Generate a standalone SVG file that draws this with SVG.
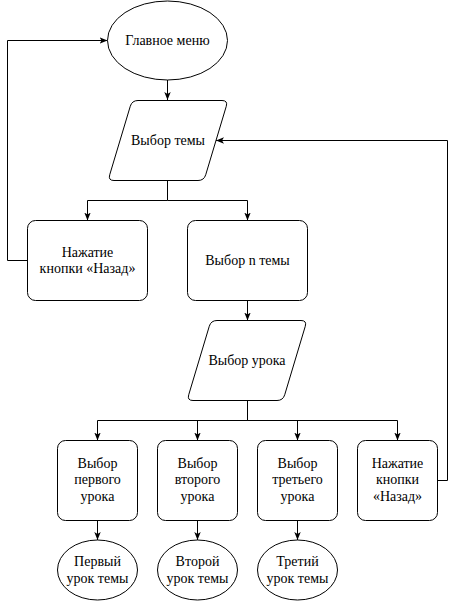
<svg xmlns="http://www.w3.org/2000/svg" width="456" height="601" viewBox="0 0 456 601">
<style>
.s{fill:#fff;stroke:#000;stroke-width:1}
.c{fill:none;stroke:#000;stroke-width:1}
text{font-family:"Liberation Serif","Times New Roman",serif;font-size:14px;fill:#000;text-anchor:middle}
</style>
<defs>
<marker id="a" markerUnits="userSpaceOnUse" viewBox="0 0 10 10" refX="10" refY="5" markerWidth="8" markerHeight="8" orient="auto">
<path d="M0,1 L10,5 L0,9 L2.5,5 z" fill="#000"/>
</marker>
</defs>
<g id="connectors">
<path class="c" d="M167.5,80 V100" marker-end="url(#a)"/>
<path class="c" d="M167.5,180.5 V200.5 H87.5 V220.5" marker-end="url(#a)"/>
<path class="c" d="M167.5,200.5 H247.5 V220.5" marker-end="url(#a)"/>
<path class="c" d="M27.5,260.5 H7.5 V40.5 H107.5" marker-end="url(#a)"/>
<path class="c" d="M247.5,300.5 V320.5" marker-end="url(#a)"/>
<path class="c" d="M247.5,400.5 V420.5 H97.5 V440.5" marker-end="url(#a)"/>
<path class="c" d="M247.5,420.5 H197.5 V440.5" marker-end="url(#a)"/>
<path class="c" d="M247.5,420.5 H297.5 V440.5" marker-end="url(#a)"/>
<path class="c" d="M247.5,420.5 H397.5 V440.5" marker-end="url(#a)"/>
<path class="c" d="M97.5,520.5 V540" marker-end="url(#a)"/>
<path class="c" d="M197.5,520.5 V540" marker-end="url(#a)"/>
<path class="c" d="M297.5,520.5 V540" marker-end="url(#a)"/>
<path class="c" d="M437.5,480.5 H447.5 V140.5 H216" marker-end="url(#a)"/>
</g>
<g id="main-menu">
<ellipse class="s" cx="167.5" cy="40.5" rx="60" ry="39.5"/>
<text x="167.5" y="45">Главное меню</text>
</g>
<g id="choose-topic">
<path class="s" d="M138,100.5 H222 Q228,100.5 226.28,106.25 L205.72,174.75 Q204,180.5 198,180.5 H114 Q108,180.5 109.72,174.75 L130.28,106.25 Q132,100.5 138,100.5 Z"/>
<text x="168" y="145">Выбор темы</text>
</g>
<g id="back-1">
<rect class="s" x="27.5" y="220.5" width="120" height="80" rx="8"/>
<text x="87.5" y="256.5">Нажатие</text>
<text x="87.5" y="273.3">кнопки «Назад»</text>
</g>
<g id="topic-n">
<rect class="s" x="187.5" y="220.5" width="120" height="80" rx="8"/>
<text x="247.5" y="265">Выбор n темы</text>
</g>
<g id="choose-lesson">
<path class="s" d="M217,320.5 H301 Q307,320.5 305.28,326.25 L284.72,394.75 Q283,400.5 277,400.5 H193 Q187,400.5 188.72,394.75 L209.28,326.25 Q211,320.5 217,320.5 Z"/>
<text x="247" y="365">Выбор урока</text>
</g>
<g id="lesson-1">
<rect class="s" x="57.5" y="440.5" width="80" height="80" rx="8"/>
<text x="97.5" y="467.5">Выбор</text>
<text x="97.5" y="484.3">первого</text>
<text x="97.5" y="501.1">урока</text>
</g>
<g id="lesson-2">
<rect class="s" x="157.5" y="440.5" width="80" height="80" rx="8"/>
<text x="197.5" y="467.5">Выбор</text>
<text x="197.5" y="484.3">второго</text>
<text x="197.5" y="501.1">урока</text>
</g>
<g id="lesson-3">
<rect class="s" x="257.5" y="440.5" width="80" height="80" rx="8"/>
<text x="297.5" y="467.5">Выбор</text>
<text x="297.5" y="484.3">третьего</text>
<text x="297.5" y="501.1">урока</text>
</g>
<g id="back-2">
<rect class="s" x="357.5" y="440.5" width="80" height="80" rx="8"/>
<text x="397.5" y="467.5">Нажатие</text>
<text x="397.5" y="484.3">кнопки</text>
<text x="397.5" y="501.1">«Назад»</text>
</g>
<g id="result-1">
<ellipse class="s" cx="97.5" cy="570" rx="40" ry="30"/>
<text x="97.5" y="566">Первый</text>
<text x="97.5" y="582.8">урок темы</text>
</g>
<g id="result-2">
<ellipse class="s" cx="197.5" cy="570" rx="40" ry="30"/>
<text x="197.5" y="566">Второй</text>
<text x="197.5" y="582.8">урок темы</text>
</g>
<g id="result-3">
<ellipse class="s" cx="297.5" cy="570" rx="40" ry="30"/>
<text x="297.5" y="566">Третий</text>
<text x="297.5" y="582.8">урок темы</text>
</g>
</svg>
